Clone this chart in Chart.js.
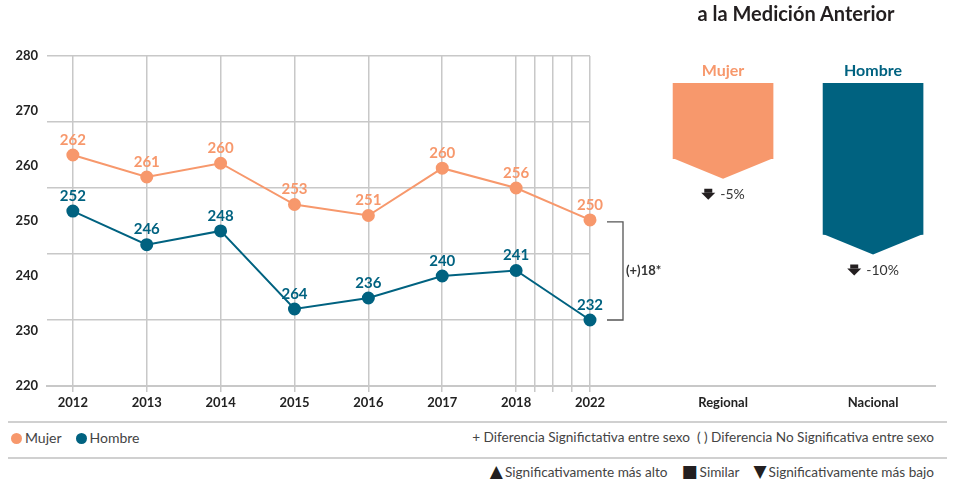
<!DOCTYPE html>
<html lang="es">
<head>
  <meta charset="UTF-8" />
  <title>Puntaje por sexo</title>
  <script src="https://cdn.jsdelivr.net/npm/chart.js"></script>
  <style>
    body { margin: 0; background: #fff; font-family: 'Lato', 'Noto Sans', sans-serif; color: #333; }
    .wrap { position: relative; width: 955px; height: 480px; overflow: hidden; }
    canvas { position: absolute; top: 0; }
    #lineChart { left: 0; }
    #barChart { left: 590px; }
    .title {
      position: absolute; top: 1px; left: 640px; width: 312px; text-align: center;
      font-weight: 700; font-size: 20px; color: #231f20;
    }
    .rule { position: absolute; left: 8px; width: 939px; height: 2px; background: #d0d0d0; }
    .legend-left { position: absolute; top: 429px; left: 11px; font-size: 14px; color: #444; }
    .legend-left span { display: inline-block; margin-right: 14px; }
    .dot { display: inline-block; width: 11px; height: 11px; border-radius: 50%; vertical-align: -1px; margin-right: 3px; }
    .legend-right { position: absolute; right: 21px; font-size: 13.6px; color: #444; white-space: nowrap; }
    .ico { font-family: 'DejaVu Sans', sans-serif; font-size: 17px; line-height: 14px; color: #231f20; margin-right: 2px; }
    .gap { display: inline-block; width: 14px; }
  </style>
</head>
<body>
  <div class="wrap">
    <canvas id="lineChart" width="680" height="420"></canvas>
    <canvas id="barChart" width="365" height="420"></canvas>
    <div class="title">a la Medición Anterior</div>
    <div class="rule" style="top:421px"></div>
    <div class="legend-left">
      <span><i class="dot" style="background:#f7986c"></i>Mujer</span><span><i class="dot" style="background:#006280"></i>Hombre</span>
    </div>
    <div class="legend-right" style="top:429px">+ Diferencia Significtativa entre sexo &nbsp;( ) Diferencia No Significativa entre sexo</div>
    <div class="rule" style="top:457px"></div>
    <div class="legend-right" style="top:464px"><span class="ico">▲</span>Significativamente más alto<span class="gap"></span><span class="ico">■</span>Similar<span class="gap"></span><span class="ico">▼</span>Significativamente más bajo</div>
  </div>

  <script>
    const years = ['2012', '2013', '2014', '2015', '2016', '2017', '2018', '2022'];
    const mujerValues = [262, 258, 260.5, 253, 251, 259.6, 256, 250.2];
    const mujerLabels = ['262', '261', '260', '253', '251', '260', '256', '250'];
    const hombreValues = [251.8, 245.7, 248.2, 234, 236, 240, 241, 232];
    const hombreLabels = ['252', '246', '248', '264', '236', '240', '241', '232'];
    const yLabelTicks = [220, 230, 240, 250, 260, 270, 280];
    const yGridTicks = [220, 232, 244, 256, 268, 280];
    // 2019-2021 squeezed between 2018 and 2022
    const xTickValues = [0, 1, 2, 3, 4, 5, 6, 6.25, 6.5, 6.75, 7];
    const sigDiffLabel = '(+)18*';

    const regions = ['Regional', 'Nacional'];
    const changeGroups = ['Mujer', 'Hombre'];
    const changeValues = [-5, -10];

    const ORANGE = '#f7986c';
    const BLUE = '#006280';
    const GRID = '#c8c8c8';
    const FONT = "'Lato', 'Noto Sans', sans-serif";

    Chart.defaults.font.family = FONT;

    const pointLabels = {
      id: 'pointLabels',
      afterDatasetsDraw(chart) {
        const ctx = chart.ctx;
        ctx.save();
        ctx.font = 'bold 15px ' + FONT;
        ctx.textAlign = 'center';
        ctx.textBaseline = 'middle';
        chart.data.datasets.forEach((ds, i) => {
          chart.getDatasetMeta(i).data.forEach((pt, j) => {
            ctx.fillStyle = ds.borderColor;
            ctx.fillText(ds.pointText[j], pt.x, pt.y - 15);
          });
        });
        // bracket between the two 2022 values
        const y = chart.scales.y;
        const right = chart.chartArea.right;
        const yTop = y.getPixelForValue(mujerValues[mujerValues.length - 1]) + 2;
        const yBot = y.getPixelForValue(hombreValues[hombreValues.length - 1]);
        ctx.strokeStyle = '#555';
        ctx.lineWidth = 1.3;
        ctx.beginPath();
        ctx.moveTo(right + 17, yTop);
        ctx.lineTo(right + 33, yTop);
        ctx.lineTo(right + 33, yBot);
        ctx.lineTo(right + 17, yBot);
        ctx.stroke();
        ctx.fillStyle = '#333';
        ctx.font = 'bold 13px ' + FONT;
        ctx.textAlign = 'left';
        ctx.fillText(sigDiffLabel, right + 36, (yTop + yBot) / 2);
        ctx.restore();
      }
    };

    const series = (values) => values.map((v, i) => ({ x: i, y: v }));

    new Chart(document.getElementById('lineChart'), {
      type: 'line',
      data: {
        datasets: [
          { label: 'Mujer', data: series(mujerValues), pointText: mujerLabels, borderColor: ORANGE, backgroundColor: ORANGE, borderWidth: 2, pointRadius: 5.5, pointHoverRadius: 5.5, clip: false },
          { label: 'Hombre', data: series(hombreValues), pointText: hombreLabels, borderColor: BLUE, backgroundColor: BLUE, borderWidth: 2, pointRadius: 5.5, pointHoverRadius: 5.5, clip: false }
        ]
      },
      options: {
        responsive: false,
        animation: false,
        devicePixelRatio: 1,
        layout: { padding: { top: 56, right: 90, left: 0, bottom: 0 } },
        plugins: { legend: { display: false }, tooltip: { enabled: false } },
        scales: {
          x: {
            type: 'linear', min: -0.35, max: 7,
            afterBuildTicks: s => { s.ticks = xTickValues.map(v => ({ value: v })); },
            afterFit: s => { s.height = 34; },
            ticks: {
              autoSkip: false, maxRotation: 0, padding: 3, color: '#222',
              font: { size: 13, weight: 'bold' },
              callback: v => Number.isInteger(v) ? years[v] : ''
            },
            grid: { color: GRID, lineWidth: 1.5, tickLength: 6 },
            border: { color: GRID, width: 2 }
          },
          y: {
            position: 'left', min: 220, max: 280,
            afterBuildTicks: s => { s.ticks = yLabelTicks.map(v => ({ value: v })); },
            afterFit: s => { s.width = 47; },
            ticks: { padding: 9, color: '#222', font: { size: 13, weight: 'bold' } },
            grid: { display: false, drawTicks: false },
            border: { display: false }
          },
          yGrid: {
            position: 'right', min: 220, max: 280,
            afterBuildTicks: s => { s.ticks = yGridTicks.map(v => ({ value: v })); },
            afterFit: s => { s.width = 0; },
            ticks: { display: false },
            grid: { color: GRID, lineWidth: 1.5, drawTicks: false },
            border: { display: false }
          }
        }
      },
      plugins: [pointLabels]
    });

    const arrowBars = {
      id: 'arrowBars',
      afterDatasetsDraw(chart) {
        const ctx = chart.ctx;
        const ds = chart.data.datasets[0];
        ctx.save();
        chart.getDatasetMeta(0).data.forEach((bar, i) => {
          const half = bar.width / 2;
          const color = ds.backgroundColor[i];
          ctx.fillStyle = color;
          ctx.beginPath();
          ctx.moveTo(bar.x - half, bar.y - 0.5);
          ctx.lineTo(bar.x + half, bar.y - 0.5);
          ctx.lineTo(bar.x, bar.y + 20);
          ctx.closePath();
          ctx.fill();

          ctx.font = 'bold 16px ' + FONT;
          ctx.textAlign = 'center';
          ctx.textBaseline = 'middle';
          ctx.fillText(changeGroups[i], bar.x, bar.base - 12);

          const ty = bar.y + 20 + 16;
          const txt = changeValues[i] + '%';
          ctx.font = '14px ' + FONT;
          const tw = ctx.measureText(txt).width;
          const total = 14 + 5 + tw;
          const ax = bar.x - total / 2 + 7;
          ctx.fillStyle = '#231f20';
          ctx.fillRect(ax - 4, ty - 6, 8, 4);
          ctx.beginPath();
          ctx.moveTo(ax - 7, ty - 2);
          ctx.lineTo(ax + 7, ty - 2);
          ctx.lineTo(ax, ty + 5);
          ctx.closePath();
          ctx.fill();
          ctx.fillStyle = '#333';
          ctx.textAlign = 'left';
          ctx.fillText(txt, ax + 12, ty);
        });
        ctx.restore();
      }
    };

    new Chart(document.getElementById('barChart'), {
      type: 'bar',
      data: {
        datasets: [{
          data: changeValues.map((v, i) => ({ x: i + 1, y: v })),
          backgroundColor: [ORANGE, BLUE],
          barThickness: 100,
          borderWidth: 0
        }]
      },
      options: {
        responsive: false,
        animation: false,
        devicePixelRatio: 1,
        layout: { padding: { top: 83, right: 20, left: 0, bottom: 0 } },
        plugins: { legend: { display: false }, tooltip: { enabled: false } },
        scales: {
          x: {
            type: 'linear', min: 0.113, max: 2.413, offset: false,
            afterBuildTicks: s => { s.ticks = regions.map((r, i) => ({ value: i + 1 })); },
            afterFit: s => { s.height = 34; },
            ticks: {
              autoSkip: false, maxRotation: 0, padding: 9, color: '#222',
              font: { size: 13, weight: 'bold' },
              callback: v => regions[v - 1] || ''
            },
            grid: { display: false, drawTicks: false },
            border: { color: GRID, width: 2 }
          },
          y: { display: false, min: -20, max: 0 }
        }
      },
      plugins: [arrowBars]
    });
  </script>
</body>
</html>
